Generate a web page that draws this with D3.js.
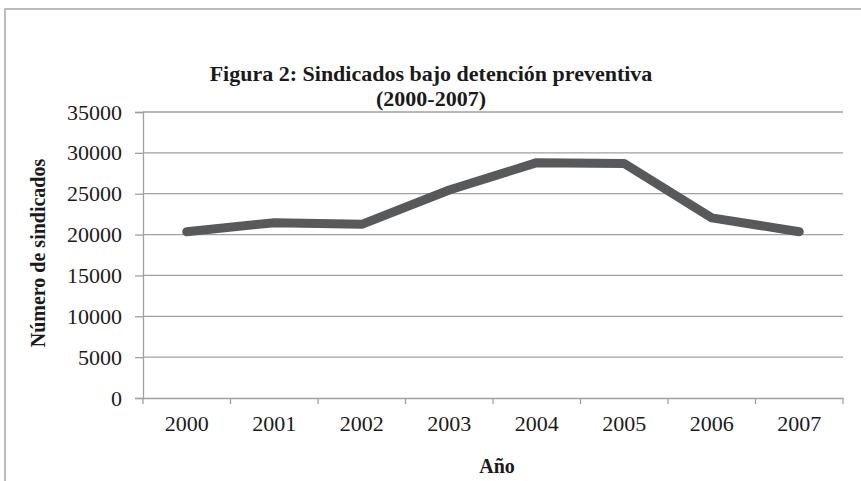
<!DOCTYPE html>
<html><head><meta charset="utf-8">
<script src="https://cdn.jsdelivr.net/npm/d3@7"></script>
<style>body{margin:0;background:#fff}svg{display:block}</style>
</head><body>
<script>
const years = ["2000","2001","2002","2003","2004","2005","2006","2007"];
const values = [20350, 21450, 21250, 25450, 28800, 28700, 22050, 20350];
const yTicks = [0,5000,10000,15000,20000,25000,30000,35000];
const titleLines = ["Figura 2: Sindicados bajo detención preventiva","(2000-2007)"];
const xTitle = "Año";
const yTitle = "Número de sindicados";

const W = 861, H = 481;
const svg = d3.select("body").append("svg").attr("width", W).attr("height", H);
const font = "'Liberation Serif','Times New Roman',serif";
const grey = "#a0a0a2";

// frame (top and left visible)
svg.append("rect").attr("x",5).attr("y",9).attr("width",W+20).attr("height",H+20)
  .attr("fill","none").attr("stroke","#a6a6a6").attr("stroke-width",1.5);

const m = {left:143, right:843, top:112, bottom:398};
const x = d3.scaleBand().domain(years).range([m.left, m.right]);
const y = d3.scaleLinear().domain([0,35000]).range([m.bottom, m.top]);

// gridlines
svg.append("g").selectAll("line").data(yTicks.filter(d=>d>0)).join("line")
  .attr("x1", m.left).attr("x2", m.right)
  .attr("y1", d=>y(d)).attr("y2", d=>y(d))
  .attr("stroke", grey).attr("stroke-width",1.3);

// y axis
const ya = svg.append("g").attr("transform",`translate(${m.left},0)`)
  .call(d3.axisLeft(y).tickValues(yTicks).tickSize(8).tickPadding(13).tickFormat(d3.format("d")));
ya.select(".domain").attr("stroke",grey).attr("stroke-width",1.3);
ya.selectAll(".tick line").attr("stroke",grey).attr("stroke-width",1.3);
ya.selectAll("text").attr("font-family",font).attr("font-size",22).attr("fill","#1a1a1a");

// x axis
const xa = svg.append("g").attr("transform",`translate(0,${m.bottom})`)
  .call(d3.axisBottom(x).tickSize(0).tickPadding(17));
xa.select(".domain").attr("stroke",grey).attr("stroke-width",1.3);
xa.selectAll("text").attr("font-family",font).attr("font-size",22).attr("fill","#1a1a1a");
// category boundary ticks
const bounds = years.map(d=>x(d)).concat([x(years[years.length-1])+x.bandwidth()]);
svg.append("g").selectAll("line").data(bounds).join("line")
  .attr("x1",d=>d).attr("x2",d=>d).attr("y1",m.bottom).attr("y2",m.bottom+6)
  .attr("stroke",grey).attr("stroke-width",1.3);

// line
const line = d3.line().x((d,i)=>x(years[i])+x.bandwidth()/2).y(d=>y(d));
svg.append("path").datum(values).attr("d",line)
  .attr("fill","none").attr("stroke","#58595b").attr("stroke-width",9)
  .attr("stroke-linejoin","round").attr("stroke-linecap","round");

// titles
svg.append("g").selectAll("text").data(titleLines).join("text")
  .attr("x",431).attr("y",(d,i)=>81+i*25).attr("text-anchor","middle")
  .attr("font-family",font).attr("font-weight","bold").attr("font-size",22).attr("fill","#1a1a1a")
  .text(d=>d);

svg.append("text").attr("x",497).attr("y",473).attr("text-anchor","middle")
  .attr("font-family",font).attr("font-weight","bold").attr("font-size",20).attr("fill","#1a1a1a")
  .text(xTitle);

svg.append("text").attr("transform","translate(45,253) rotate(-90)").attr("text-anchor","middle")
  .attr("font-family",font).attr("font-weight","bold").attr("font-size",20).attr("fill","#1a1a1a")
  .text(yTitle);
</script>
</body></html>
